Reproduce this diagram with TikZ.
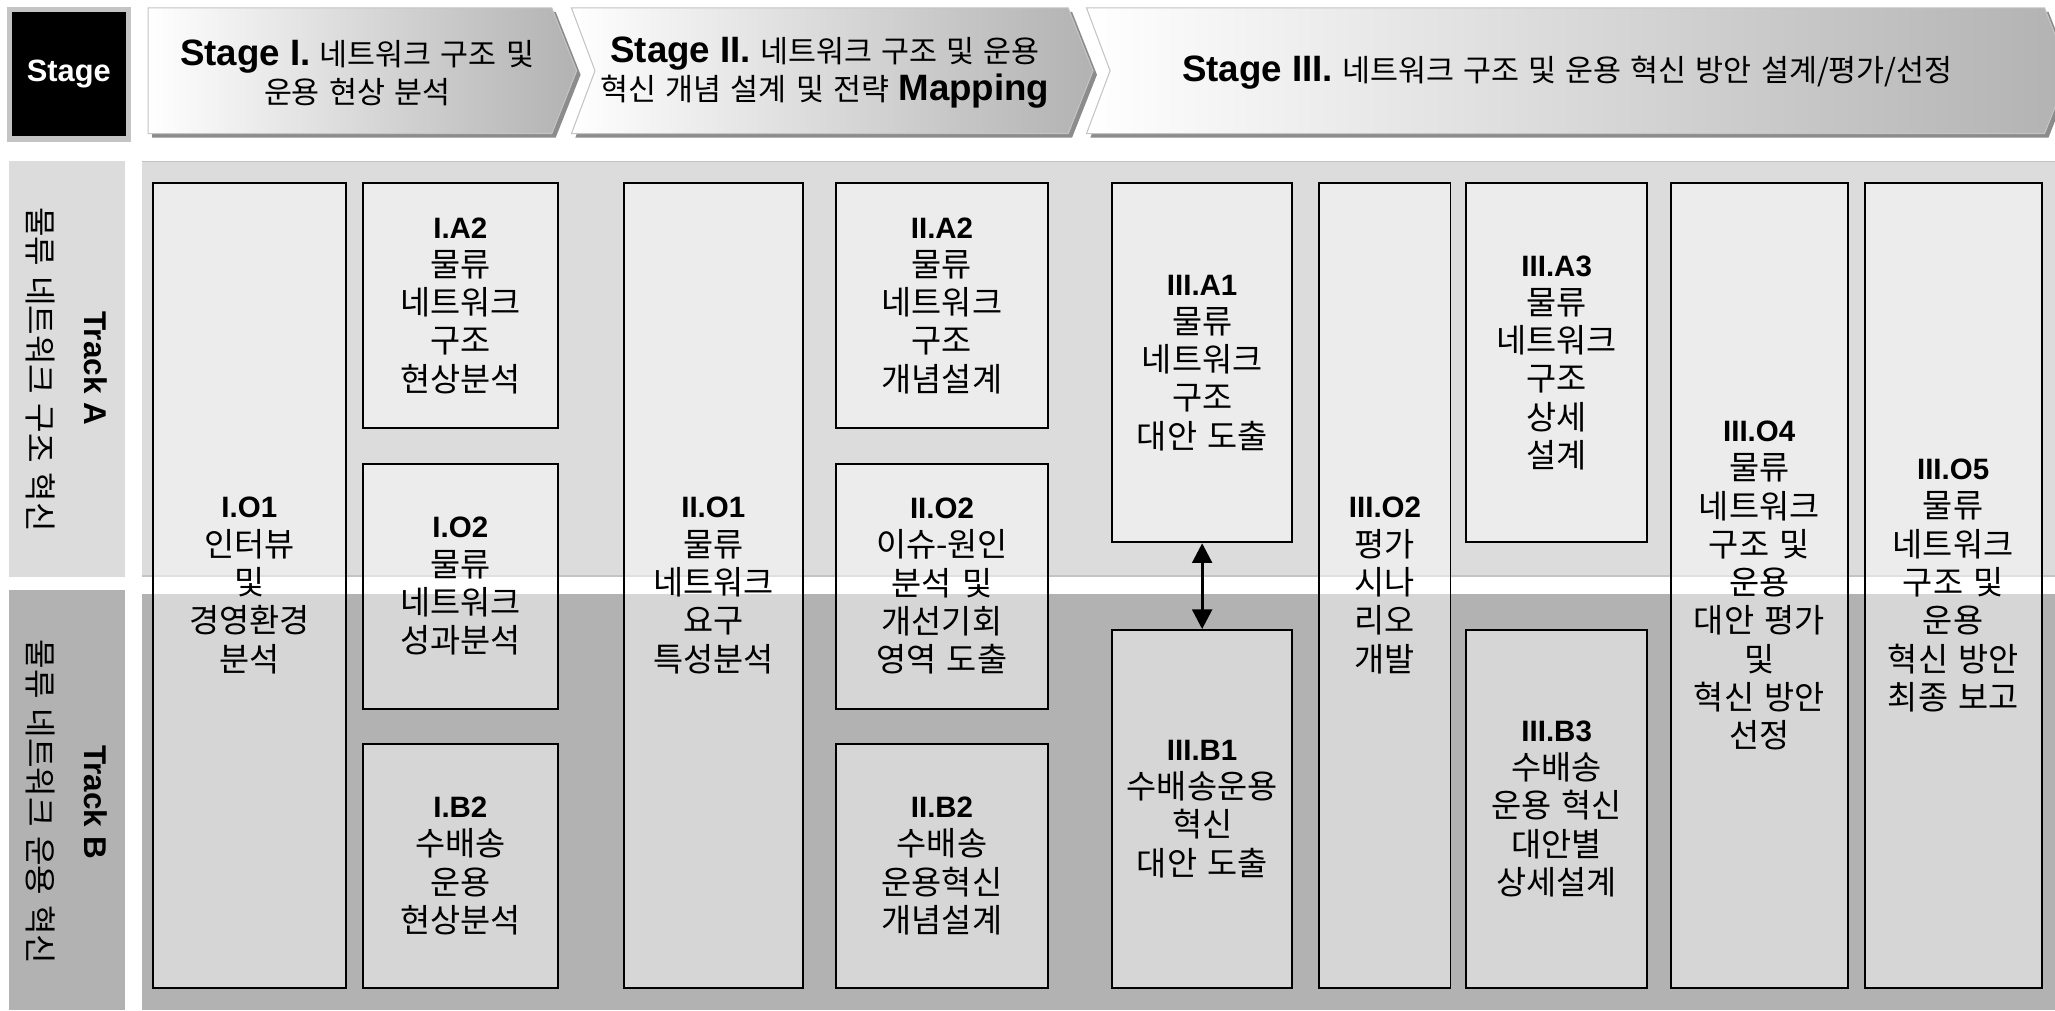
\documentclass[tikz,border=0pt]{standalone}
\usepackage{fontspec}
\setmainfont{Liberation Sans}
\newfontfamily\kr[WordSpace=1.6]{Noto Sans CJK KR}
\newfontfamily\krh[WordSpace=1.35]{Noto Sans CJK KR}
\usetikzlibrary{arrows.meta}
\definecolor{ta}{HTML}{DCDCDC}
\definecolor{tb}{HTML}{B2B2B2}
\definecolor{sh}{HTML}{8C8C8C}
\definecolor{gr}{HTML}{B2B2B2}
\definecolor{edge}{HTML}{C4C4C4}
\newcommand\lb[1]{{\rmfamily\bfseries\fontsize{22.5}{29.2}\selectfont #1}}
\newcommand\hl[1]{{\rmfamily\bfseries\fontsize{28}{29}\selectfont #1}}
\tikzset{
  bx/.style={draw=black, line width=1.5pt, fill=white, fill opacity=0.48, text opacity=1,
    inner sep=0pt, anchor=north west, align=center, font=\kr\fontsize{25}{29.2}\selectfont},
  stagearrow/.style={left color=white, right color=gr, draw=edge, line width=0.8pt},
  shadowfill/.style={fill=sh},
  headtext/.style={align=center, font=\krh\fontsize{23.2}{29}\selectfont},
  trackkr/.style={rotate=-90, font=\krh\fontsize{24.5}{26}\selectfont},
  tracken/.style={rotate=-90, font=\rmfamily\bfseries\fontsize{24}{26}\selectfont},
  dblarrow/.style={{Triangle[width=15pt,length=15pt]}-{Triangle[width=15pt,length=15pt]}, line width=2.4pt}
}
\begin{document}
\begin{tikzpicture}[x=1pt,y=-1pt]
\useasboundingbox (0,0) rectangle (1568,771);
\fill[white] (0,0) rectangle (1568,771);

% Stage box
\fill[edge] (5,5) rectangle (100,108);
\fill[black] (9,9) rectangle (96,104);
\node[text=white, font=\rmfamily\bfseries\fontsize{23.5}{26}\selectfont] (stg) at (52.5,56.5) {Stage};

% Stage arrows: shadows
\fill[shadowfill] (116,9) -- (424,9) -- (443,57) -- (424,105) -- (116,105) -- cycle;
\fill[shadowfill] (439,9) -- (818,9) -- (837,57) -- (818,105) -- (439,105) -- (457,57) -- cycle;
\fill[shadowfill] (832,9) -- (1563,9) -- (1582,57) -- (1563,105) -- (832,105) -- (850,57) -- cycle;
% Stage arrows
\shade[stagearrow] (113,6) -- (421,6) -- (440,54) -- (421,102) -- (113,102) -- cycle;
\shade[stagearrow] (436,6) -- (815,6) -- (834,54) -- (815,102) -- (436,102) -- (454,54) -- cycle;
\shade[stagearrow] (829,6) -- (1560,6) -- (1579,54) -- (1560,102) -- (829,102) -- (847,54) -- cycle;
\node[headtext] (s1) at (272.5,55.5) {\hl{Stage I.} 네트워크 구조 및\\운용 현상 분석};
\node[headtext] (s2) at (629.5,55.5) {\hl{Stage II.} 네트워크 구조 및 운용\\혁신 개념 설계 및 전략 \hl{Mapping}};
\node[headtext] (s3) at (1196,55) {\hl{Stage III.} 네트워크 구조 및 운용 혁신 방안 설계/평가/선정};

% Track backgrounds
\fill[ta] (7,123) rectangle (95,440);
\fill[tb] (7,450) rectangle (95,771);
\fill[ta] (108,123) rectangle (1568,440);
\draw[edge, line width=1pt] (108,123) -- (1568,123);
\draw[edge, line width=1.2pt] (108,439.5) -- (1568,439.5);
\fill[tb] (108,453) rectangle (1568,771);

% Track labels
\node[trackkr] (akr) at (31,282) {물류 네트워크 구조 혁신};
\node[tracken] (aen) at (73,281) {Track A};
\node[trackkr] (bkr) at (31,612) {물류 네트워크 운용 혁신};
\node[tracken] (ben) at (73,612) {Track B};

% Boxes
\node[bx, minimum width=147pt, minimum height=614pt] (IO1) at (116,139) {\lb{I.O1}\\인터뷰\\및\\경영환경\\분석};
\node[bx, minimum width=149pt, minimum height=187pt] (IA2) at (276,139) {\lb{I.A2}\\물류\\네트워크\\구조\\현상분석};
\node[bx, minimum width=149pt, minimum height=187pt] (IO2) at (276,353) {\lb{I.O2}\\물류\\네트워크\\성과분석};
\node[bx, minimum width=149pt, minimum height=186pt] (IB2) at (276,567) {\lb{I.B2}\\수배송\\운용\\현상분석};

\node[bx, minimum width=137pt, minimum height=614pt] (IIO1) at (475,139) {\lb{II.O1}\\물류\\네트워크\\요구\\특성분석};
\node[bx, minimum width=162pt, minimum height=187pt] (IIA2) at (637,139) {\lb{II.A2}\\물류\\네트워크\\구조\\개념설계};
\node[bx, minimum width=162pt, minimum height=187pt] (IIO2) at (637,353) {\lb{II.O2}\\이슈-원인\\분석 및\\개선기회\\영역 도출};
\node[bx, minimum width=162pt, minimum height=186pt] (IIB2) at (637,567) {\lb{II.B2}\\수배송\\운용혁신\\개념설계};

\node[bx, minimum width=137pt, minimum height=274pt] (IIIA1) at (848,139) {\lb{III.A1}\\물류\\네트워크\\구조\\대안 도출};
\node[bx, minimum width=137pt, minimum height=273pt] (IIIB1) at (848,480) {\lb{III.B1}\\수배송운용\\혁신\\대안 도출};
\node[bx, minimum width=100pt, minimum height=614pt] (IIIO2) at (1006,139) {\lb{III.O2}\\평가\\시나\\리오\\개발};
\node[bx, minimum width=138pt, minimum height=274pt] (IIIA3) at (1118,139) {\lb{III.A3}\\물류\\네트워크\\구조\\상세\\설계};
\node[bx, minimum width=138pt, minimum height=273pt] (IIIB3) at (1118,480) {\lb{III.B3}\\수배송\\운용 혁신\\대안별\\상세설계};
\node[bx, minimum width=135pt, minimum height=614pt] (IIIO4) at (1274,139) {\lb{III.O4}\\물류\\네트워크\\구조 및\\운용\\대안 평가\\및\\혁신 방안\\선정};
\node[bx, minimum width=135pt, minimum height=614pt] (IIIO5) at (1422,139) {\lb{III.O5}\\물류\\네트워크\\구조 및\\운용\\혁신 방안\\최종 보고};

% Arrow
\draw[dblarrow] (IIIA1.south) -- (IIIB1.north);
\end{tikzpicture}
\end{document}
